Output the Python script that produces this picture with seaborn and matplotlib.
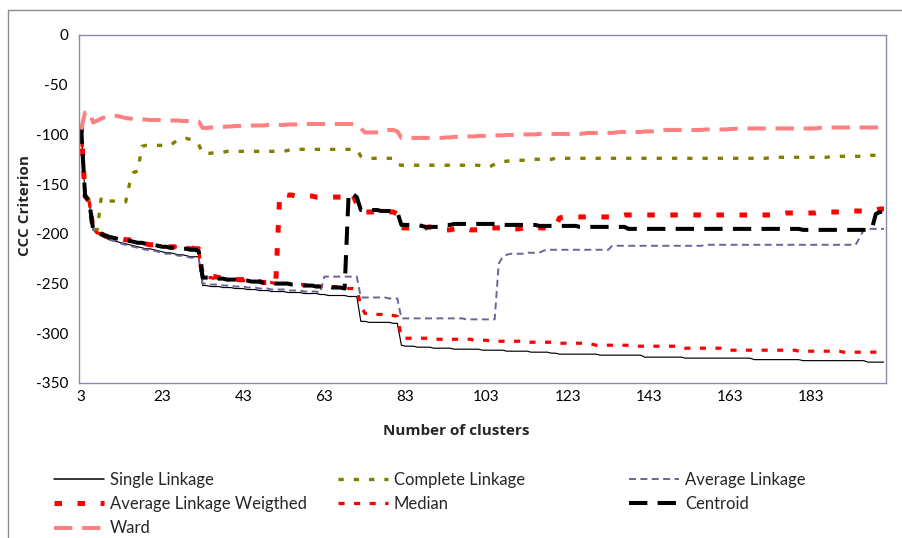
import matplotlib
matplotlib.use("Agg")
import matplotlib.pyplot as plt
from matplotlib.lines import Line2D
import pandas as pd
import seaborn as sns

# Number of clusters on the x axis (3 .. 201)
clusters = list(range(3, 202))

single_linkage = [
    -91, -162, -167, -196, -199, -202, -204, -206, -207, -208,
    -209, -210, -211, -212, -213, -214, -215, -215, -216, -217,
    -218, -219, -219, -220, -221, -221, -222, -223, -223, -223,
    -252, -252, -253, -253, -253, -254, -254, -254, -255, -255,
    -255, -256, -256, -256, -257, -257, -257, -258, -258, -258,
    -258, -259, -259, -259, -259, -260, -260, -260, -260, -261,
    -261, -262, -262, -262, -262, -262, -263, -263, -263, -288,
    -288, -289, -289, -289, -289, -289, -289, -290, -290, -312,
    -313, -313, -313, -314, -314, -314, -314, -315, -315, -315,
    -315, -315, -316, -316, -316, -316, -316, -316, -316, -317,
    -317, -317, -317, -317, -317, -318, -318, -318, -318, -318,
    -318, -319, -319, -319, -319, -319, -320, -320, -321, -321,
    -321, -321, -321, -321, -321, -321, -321, -321, -322, -322,
    -322, -322, -322, -322, -322, -322, -322, -322, -322, -324,
    -324, -324, -324, -324, -324, -324, -324, -324, -324, -325,
    -325, -325, -325, -325, -325, -325, -325, -325, -325, -325,
    -325, -325, -325, -325, -325, -325, -326.5, -326.5, -326.5, -326.5,
    -326.5, -326.5, -326.5, -326.5, -326.5, -326.5, -326.5, -326.5, -327.5, -327.5,
    -327.5, -327.5, -327.5, -327.5, -327.5, -327.5, -327.5, -327.5, -327.5, -327.5,
    -327.5, -327.5, -327.5, -327.5, -329, -329, -329, -329, -329,
]

complete_linkage = [
    -91, -162, -167, -196, -196, -163, -166, -167, -167, -168,
    -168, -168, -149, -138, -137, -112, -111, -111, -111, -111,
    -111, -111, -111, -108, -105, -105, -104, -105, -106, -110,
    -119, -119, -119, -118, -118, -118, -117, -117, -117, -117,
    -117, -117, -117, -117, -117, -117, -117, -117, -117, -117,
    -117, -116, -115, -115, -115, -115, -115, -115, -115, -115,
    -115, -115, -115, -115, -115, -115, -115, -115, -115, -122,
    -124, -124, -124, -124, -124, -124, -124, -124, -130, -131,
    -131, -131, -131, -131, -131, -131, -131, -131, -131, -131,
    -131, -131, -131, -131, -131, -131, -131, -131, -131, -132,
    -133, -132, -130, -128, -127, -127, -126, -126, -126, -126,
    -126, -125, -125, -125, -125, -125, -125, -124, -124, -124,
    -124, -124, -124, -124, -124, -124, -124, -124, -124, -124,
    -124, -124, -124, -124, -124, -124, -124, -124, -124, -124,
    -124, -124, -124, -124, -124, -124, -124, -124, -124, -124,
    -124, -124, -124, -124, -124, -124, -124, -124, -124, -124,
    -124, -124, -124, -124, -124, -124, -124, -124, -124, -124,
    -123, -123, -123, -123, -123, -123, -123, -123, -123, -123,
    -123, -123, -123, -123, -123, -122, -122, -122, -122, -122,
    -122, -122, -122, -122, -121, -121, -121, -121, -121,
]

average_linkage = [
    -91, -162, -167, -196, -199, -202, -204, -206, -207, -208,
    -210, -211, -212, -213, -214, -215, -216, -216, -217, -218,
    -219, -220, -220, -221, -222, -222, -223, -224, -224, -224,
    -250, -250, -251, -251, -251, -252, -252, -252, -253, -253,
    -253, -254, -254, -254, -255, -255, -255, -256, -256, -256,
    -256, -257, -257, -257, -257, -258, -258, -258, -258, -259,
    -243, -243, -243, -243, -243, -243, -243, -243, -243, -264,
    -264, -264, -264, -264, -264, -264, -265, -265, -265, -285,
    -285, -285, -285, -285, -285, -285, -285, -285, -285, -285,
    -285, -285, -285, -285, -285, -286, -286, -286, -286, -286,
    -286, -286, -286, -230, -223, -221, -220, -220, -220, -220,
    -219, -219, -219, -219, -217, -216, -216, -216, -216, -216,
    -216, -216, -216, -216, -216, -216, -216, -216, -216, -216,
    -216, -212, -212, -212, -212, -212, -212, -212, -212, -212,
    -212, -212, -212, -212, -212, -212, -212, -212, -212, -212,
    -212, -212, -212, -212, -211, -211, -211, -211, -211, -211,
    -211, -211, -211, -211, -211, -211, -211, -211, -211, -211,
    -211, -211, -211, -211, -211, -211, -211, -211, -211, -211,
    -211, -211, -211, -211, -211, -211, -211, -211, -211, -211,
    -211, -211, -204, -196, -195, -195, -195, -195, -195,
]

average_linkage_weighted = [
    -91, -162, -167, -196, -199, -200, -202, -203, -204, -205,
    -205, -206, -206, -207, -208, -209, -210, -211, -211, -212,
    -212, -213, -213, -213, -214, -214, -214, -214, -215, -215,
    -243, -243, -243, -243, -244, -244, -245, -245, -246, -246,
    -246, -247, -247, -248, -248, -249, -249, -250, -251, -160,
    -160, -161, -161, -162, -162, -162, -162, -162, -163, -163,
    -163, -163, -163, -163, -163, -162, -159, -160, -170, -178,
    -178, -178, -178, -178, -178, -178, -178, -178, -180, -194,
    -194, -194, -195, -195, -195, -194, -193, -194, -195, -196,
    -196, -196, -195, -194, -194, -195, -196, -196, -196, -195,
    -195, -194, -194, -194, -194, -195, -195, -195, -195, -194,
    -194, -194, -194, -194, -194, -194, -194, -193, -184, -183,
    -183, -183, -183, -183, -183, -183, -183, -183, -183, -183,
    -183, -183, -183, -182, -181, -181, -181, -181, -181, -181,
    -181, -181, -181, -181, -181, -181, -181, -181, -181, -181,
    -181, -181, -181, -181, -181, -181, -181, -181, -181, -181,
    -181, -181, -181, -181, -181, -181, -181, -181, -181, -181,
    -181, -180, -180, -180, -179, -179, -179, -179, -179, -179,
    -179, -179, -178, -178, -178, -178, -178, -178, -177, -177,
    -177, -177, -177, -177, -177, -177, -176, -175, -175,
]

median = [
    -91, -162, -167, -196, -199, -200, -202, -203, -204, -205,
    -206, -206, -207, -207, -208, -209, -210, -210, -211, -212,
    -212, -213, -213, -213, -214, -214, -214, -214, -215, -216,
    -244, -244, -244, -245, -245, -245, -246, -246, -246, -247,
    -247, -247, -248, -248, -248, -249, -249, -249, -250, -250,
    -250, -250, -251, -251, -251, -251, -252, -252, -252, -253,
    -253, -253, -253, -253, -254, -254, -255, -255, -256, -272,
    -280, -280, -281, -281, -281, -282, -282, -282, -283, -304,
    -305, -305, -305, -305, -305, -305, -305, -305, -306, -306,
    -306, -306, -306, -306, -306, -306, -306, -307, -307, -307,
    -307, -308, -308, -308, -308, -308, -308, -308, -308, -309,
    -309, -309, -309, -309, -309, -309, -309, -310, -310, -310,
    -310, -310, -310, -310, -310, -310, -311, -312, -312, -312,
    -312, -312, -312, -312, -312, -312, -312, -313, -313, -313,
    -313, -313, -313, -313, -313, -313, -313, -313, -314, -315,
    -315, -315, -315, -315, -315, -315, -315, -315, -315, -315,
    -317, -317, -317, -317, -317, -317, -317, -317, -317, -317,
    -317, -317, -317, -317, -317, -317, -317, -318, -318, -318,
    -318, -318, -318, -318, -318, -318, -318, -318, -319, -319,
    -319, -319, -319, -319, -319, -319, -319, -319, -319,
]

centroid = [
    -91, -162, -167, -196, -199, -200, -202, -203, -204, -205,
    -206, -207, -207, -208, -209, -209, -210, -211, -211, -212,
    -213, -213, -214, -214, -215, -215, -215, -216, -216, -217,
    -244, -244, -244, -245, -245, -245, -246, -246, -246, -247,
    -247, -247, -248, -248, -248, -249, -249, -249, -250, -250,
    -250, -250, -251, -251, -251, -252, -252, -252, -253, -253,
    -253, -253, -254, -254, -254, -255, -159, -160, -163, -176,
    -176, -176, -176, -176, -177, -177, -177, -178, -178, -191,
    -191, -191, -191, -191, -192, -193, -193, -193, -193, -192,
    -191, -191, -190, -190, -190, -190, -190, -190, -190, -190,
    -190, -190, -190, -190, -191, -191, -191, -191, -191, -191,
    -191, -191, -191, -192, -192, -192, -192, -192, -192, -192,
    -192, -192, -192, -193, -193, -193, -193, -193, -193, -193,
    -193, -193, -193, -193, -193, -195, -195, -195, -195, -195,
    -195, -195, -195, -195, -195, -195, -195, -195, -195, -195,
    -195, -195, -195, -195, -195, -195, -195, -195, -195, -195,
    -195, -195, -195, -195, -195, -195, -195, -195, -195, -195,
    -195, -195, -195, -195, -195, -195, -195, -195, -196, -196,
    -196, -196, -196, -196, -196, -196, -196, -196, -196, -196,
    -196, -196, -196, -196, -196, -195, -180, -178, -178,
]

ward = [
    -95, -78, -77, -88, -86, -84, -82.5, -81.5, -81, -81.5,
    -82.5, -83.5, -84, -84.5, -85, -85, -85, -85.5, -85.5, -85.5,
    -86, -86, -86, -86, -86, -86.5, -86.5, -86.5, -86.5, -87,
    -93.5, -93.5, -93, -93, -93, -92.5, -92, -92, -91.5, -91.5,
    -91.5, -91, -91, -91, -91, -91, -90.5, -90.5, -90.5, -90.5,
    -90.5, -90, -90, -90, -90, -89.5, -89.5, -89.5, -89.5, -89.5,
    -89.5, -89.5, -89.5, -89.5, -89.5, -89.5, -89.5, -89.5, -90, -94,
    -98, -98, -98, -98, -98, -96, -95.5, -95.5, -97, -103.5,
    -103.5, -103.5, -103.5, -103.5, -103.5, -103.5, -103.5, -103.5, -103.5, -103.5,
    -103, -103, -102.5, -102.5, -102, -102, -102, -102, -101.5, -101.5,
    -101.5, -101, -101, -101, -101, -100.5, -100.5, -100.5, -100.5, -100,
    -100, -100, -100, -99.5, -99.5, -99.5, -99.5, -99.5, -99.5, -99.5,
    -99.5, -99.5, -99.5, -99.5, -99, -98.5, -98.5, -98.5, -98.5, -98.5,
    -98.5, -98.5, -98, -97.5, -97.5, -97.5, -97.5, -97.5, -97.5, -97,
    -97, -97, -97, -96, -95.5, -95.5, -95.5, -95.5, -95.5, -95.5,
    -95.5, -95.5, -95.5, -95.5, -95, -95, -95, -95, -95, -95,
    -94.5, -94.5, -94, -94, -94, -94, -94, -94, -94, -94,
    -94, -94, -94, -94, -94, -94, -94, -94, -94, -94,
    -94, -94, -93.5, -93, -93, -93, -93, -93, -93, -93,
    -93, -93, -93, -93, -93, -93, -93, -93, -93,
]

method_names = ["Single Linkage", "Complete Linkage", "Average Linkage",
                "Average Linkage Weigthed", "Median", "Centroid", "Ward"]
series_values = [single_linkage, complete_linkage, average_linkage,
                 average_linkage_weighted, median, centroid, ward]

y_ticks = list(range(-350, 1, 50))
x_ticks = list(range(3, 184, 20))

# Line appearance per method: colour, width (pt), dash pattern (pt)
styles = {
    "Single Linkage":           ("#000000", 0.85, "-"),
    "Complete Linkage":         ("#808000", 2.4, (0, (3.8, 7.2))),
    "Average Linkage":          ("#666699", 1.4, (0, (5.0, 3.2))),
    "Average Linkage Weigthed": ("#ff0000", 3.6, (0, (5.4, 11.2))),
    "Median":                   ("#ff0000", 2.3, (0, (4.4, 6.8))),
    "Centroid":                 ("#000000", 2.9, (0, (13.2, 7.4))),
    "Ward":                     ("#ff8080", 2.9, (0, (13.2, 7.0))),
}

df = pd.concat(
    [pd.DataFrame({"clusters": clusters, "ccc": vals, "method": name})
     for name, vals in zip(method_names, series_values)],
    ignore_index=True,
)

sns.set_theme(style="white")
plt.rcParams["font.family"] = ["Lato", "DejaVu Sans"]
plt.rcParams["lines.scale_dashes"] = False

W, H = 903, 538
fig = plt.figure(figsize=(W / 100, H / 100), dpi=100)
fig.patch.set_facecolor("white")

left, right, top, bottom = 79, 886, 35, 383
ax = fig.add_axes([left / W, 1 - bottom / H, (right - left) / W, (bottom - top) / H])

handles = {}
for name in method_names:
    color, lw, ls = styles[name]
    sns.lineplot(data=df[df["method"] == name], x="clusters", y="ccc",
                 ax=ax, color=color, linewidth=lw, linestyle=ls,
                 legend=False, estimator=None, sort=False)
    line = ax.lines[-1]
    line.set_dash_capstyle("butt")
    line.set_solid_capstyle("butt")
    handles[name] = Line2D([], [], color=color, linewidth=max(lw, 1.1),
                           linestyle=ls, dash_capstyle="butt")

ax.set_xlim(2.5, 201.5)
ax.set_ylim(-350, 0)
ax.set_xticks(x_ticks)
ax.set_xticklabels([str(t) for t in x_ticks])
ax.set_yticks(y_ticks)
ax.set_yticklabels([str(t) for t in y_ticks])
ax.tick_params(axis="both", length=0, labelsize=11, colors="black")
ax.tick_params(axis="y", pad=8)
ax.tick_params(axis="x", pad=5)
for sp in ax.spines.values():
    sp.set_color("#8a8ab0")
    sp.set_linewidth(1.0)
ax.grid(False)

label_font = dict(family=["Open Sans", "DejaVu Sans"], fontsize=11, fontweight="bold")
ax.set_ylabel("CCC Criterion", **label_font)
ax.yaxis.set_label_coords((32 - left) / (right - left), (bottom - 206) / (bottom - top))
ax.set_xlabel("Number of clusters", **label_font)
ax.xaxis.set_label_coords((456 - left) / (right - left), (bottom - 424) / (bottom - top))

# Legend laid out in three columns below the plot
columns = [
    (54, ["Single Linkage", "Average Linkage Weigthed", "Ward"]),
    (338, ["Complete Linkage", "Median"]),
    (629, ["Average Linkage", "Centroid"]),
]
for x0, names in columns:
    fig.legend([handles[n] for n in names], names,
               loc="upper left", bbox_to_anchor=(x0 / W, 1 - 472 / H),
               frameon=False, fontsize=12, handlelength=3.0,
               handletextpad=0.36, labelspacing=0.49, borderpad=0,
               borderaxespad=0)

# Chart area border
fig.add_artist(Line2D([8 / W, 8 / W], [0, 1 - 10 / H], color="#8c8c8c", lw=1.0,
                      transform=fig.transFigure))
fig.add_artist(Line2D([8 / W, 1], [1 - 10 / H, 1 - 10 / H], color="#8c8c8c", lw=1.0,
                      transform=fig.transFigure))

fig.savefig("out.png", dpi=100)
